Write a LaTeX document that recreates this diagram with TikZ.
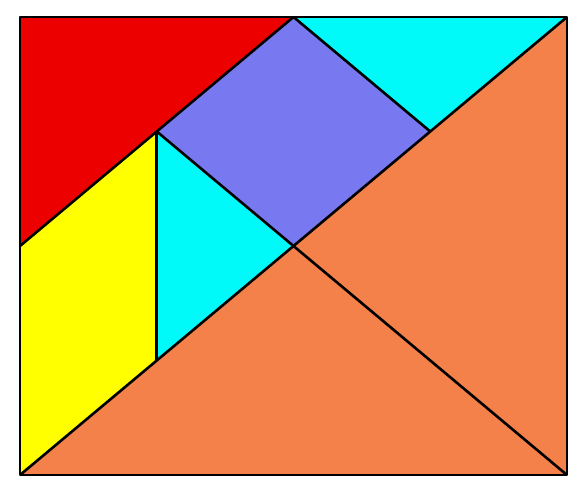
\documentclass[tikz,border=0pt]{standalone}
\begin{document}
\begin{tikzpicture}[x=1pt,y=-1pt,
  piece/.style={draw=black,line width=2.6pt,line join=round}]
\definecolor{tred}{RGB}{236,0,0}
\definecolor{tcyan}{RGB}{0,250,250}
\definecolor{tblue}{RGB}{120,120,240}
\definecolor{tyellow}{RGB}{255,255,0}
\definecolor{torange}{RGB}{244,128,74}
\useasboundingbox[fill=white] (0,0) rectangle (580,479);
\coordinate (A) at (20,17);
\coordinate (B) at (293.5,17);
\coordinate (C) at (567,17);
\coordinate (D) at (567,475);
\coordinate (E) at (20,475);
\coordinate (O) at (293.5,246);
\coordinate (P) at (156.75,131.5);
\coordinate (Q) at (430.25,131.5);
\coordinate (L) at (20,246);
\coordinate (R) at (156.75,360.5);
\fill[tred] (A) -- (B) -- (L) -- cycle;
\fill[tcyan] (B) -- (C) -- (Q) -- cycle;
\fill[tblue] (B) -- (Q) -- (O) -- (P) -- cycle;
\fill[tyellow] (L) -- (P) -- (R) -- (E) -- cycle;
\fill[tcyan] (P) -- (O) -- (R) -- cycle;
\fill[torange] (C) -- (D) -- (O) -- cycle;
\fill[torange] (E) -- (O) -- (D) -- cycle;
\draw[piece] (A) -- (C) -- (D) -- (E) -- cycle;
\draw[piece] (E) -- (C);
\draw[piece] (P) -- (D);
\draw[piece] (L) -- (B) -- (Q);
\draw[piece] (P) -- (R);
\end{tikzpicture}
\end{document}
